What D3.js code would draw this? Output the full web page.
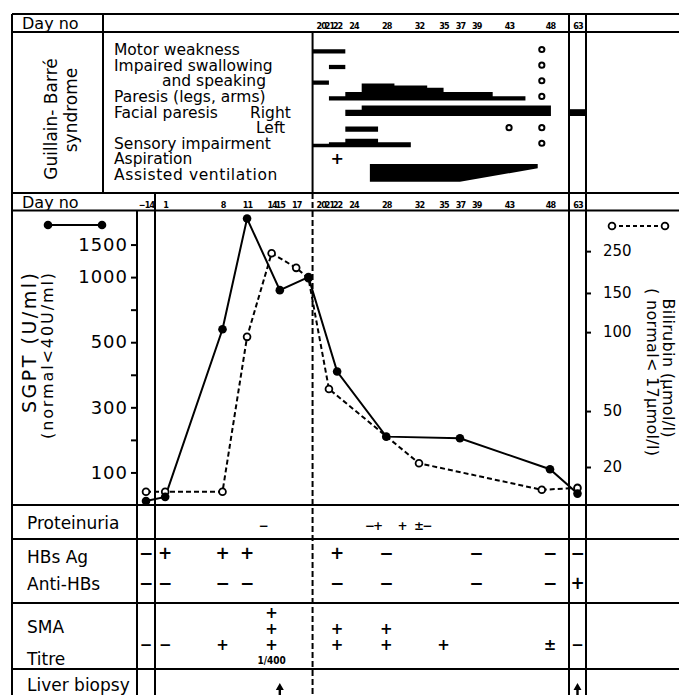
<!DOCTYPE html>
<html>
<head>
<meta charset="utf-8">
<script src="https://cdn.jsdelivr.net/npm/d3@7"></script>
<style>
  body { margin: 0; background: #fff; }
  svg { display: block; font-family: "DejaVu Sans", sans-serif; }
</style>
</head>
<body>
<svg id="chart" width="679" height="695"></svg>
<script>
// ---- data ----
const dayLabels = [-14, 1, 8, 11, 14, 15, 17, 20, 21, 22, 24, 28, 32, 35, 37, 39, 43, 48, 63];
const gbDayLabels = [20, 21, 22, 24, 28, 32, 35, 37, 39, 43, 48, 63];
const gbOnsetDay = 19;

// SGPT (U/ml), solid line
const sgptDays   = [-14, 1, 8, 11, 15, 18.5, 22, 28, 37, 48, 63];
const sgptValues = [12, 25, 600, 1900, 900, 1000, 410, 210, 205, 110, 35];
const sgptTicks = [0, 100, 200, 300, 400, 500, 750, 1000, 1500, 2000];
const sgptLabelled = [100, 300, 500, 1000, 1500];

// bilirubin (umol/l), dashed line
const biliDays   = [-14, 1, 8, 11, 14, 17, 18.5, 21, 32, 47, 63];
const biliValues = [7, 7, 7, 97, 245, 210, 185, 64, 22, 8, 9];
const biliTicks = [20, 50, 100, 150, 250];

// Guillain-Barre course: [day, severity], severity 0 closes the bar
const gbLabels = ["Motor weakness", "Impaired swallowing", "and speaking", "Paresis (legs, arms)",
  "Facial paresis", "", "Sensory impairment", "Aspiration", "Assisted ventilation"];
const facialSides = ["Right", "Left"];
const motorWeakness = [[19, 1], [23, 0]];
const impairedSwallowing = [[21, 1], [23, 0]];
const impairedSpeaking = [[19, 1], [21, 0]];
const paresis = [[21, 1], [23, 2], [25, 4], [29, 3.5], [33, 3], [35, 2], [41, 1], [45, 0]];
const facialRight = [[23, 1.5], [25, 2.5], [48.5, 0]];
const facialRightDay63 = 1.6;
const facialLeft = [[23, 1.2], [27, 0]];
const sensory = [[19, 0.8], [21, 1.2], [23, 2], [27, 1.2], [31, 0]];
const ventilation = [[26, 4.2], [37, 4.2], [46.5, 1]];
const aspirationDays = [22];
const gbNormalDays = [[47], [47], [47], [47], [], [43, 47], [47], [], []];

// tables
const proteinuriaDays = [13, 26, 27, 30, 32, 33];
const proteinuria     = ["−", "−", "+", "+", "±", "−"];
const serologyDays = [-14, 1, 8, 11, 22, 28, 39, 48, 63];
const hbsAg        = ["−", "+", "+", "+", "+", "−", "−", "−", "−"];
const antiHbs      = ["−", "−", "−", "−", "−", "−", "−", "−", "+"];
const smaDays  = [-14, 1, 8, 14, 22, 28, 35, 48, 63];
const smaTitre = ["−", "−", "+", "+++", "++", "++", "+", "±", "−"];
const smaPeakDay = 14, smaPeakTitre = "1/400";
const biopsyDays = [15, 63];

// ---- layout ----
const L = {
  left: 12, gbLabel: 103, axis: 137, day0: 155, lateL: 569, lateR: 586, right: 679,
  top: 14, dayRow1: 32, gbBottom: 193, dayRow2: 210.5, chartBottom: 505,
  protBottom: 539, serBottom: 603, smaBottom: 669, bottom: 695
};
const FONT = "DejaVu Sans, sans-serif";
const NARROW = "DejaVu Sans Condensed, Liberation Sans Narrow, DejaVu Sans, sans-serif";

const svg = d3.select("#chart");

// broken day axis: day -14 column, days 0-48, day 63 column
const x = d3.scaleLinear()
  .domain([-14, 0, 48, 63])
  .range([(L.axis + L.day0) / 2, 157, 550, (L.lateL + L.lateR) / 2]);

// SGPT axis has evenly spaced ticks
const sgptStep = (L.chartBottom - 212) / (sgptTicks.length - 1);
const ySgpt = d3.scaleLinear()
  .domain(sgptTicks)
  .range(sgptTicks.map((d, i) => L.chartBottom - i * sgptStep));

// bilirubin axis is hand spaced, fractions of the plot height
const biliAxisFrac = [0, 0.129, 0.319, 0.587, 0.72, 0.862];
const plotH = L.chartBottom - L.dayRow2;
const yBili = d3.scaleLinear()
  .domain([0].concat(biliTicks))
  .range(biliAxisFrac.map(f => L.chartBottom - f * plotH));

// ---- frame ----
const frame = svg.append("g").attr("stroke", "#000").attr("stroke-width", 2).attr("fill", "none");
[L.top, L.dayRow1, L.gbBottom, L.dayRow2, L.chartBottom, L.protBottom, L.serBottom, L.smaBottom]
  .forEach(y => frame.append("line").attr("x1", L.left).attr("x2", L.right).attr("y1", y).attr("y2", y));

function vline(xp, y1, y2) {
  frame.append("line").attr("x1", xp).attr("x2", xp).attr("y1", y1).attr("y2", y2);
}
vline(L.left, L.top, L.bottom);
vline(L.gbLabel, L.top, L.gbBottom);
vline(x(gbOnsetDay), L.dayRow1, L.gbBottom);
vline(L.axis, L.dayRow2, L.bottom);
vline(L.day0, L.gbBottom, L.bottom);
vline(L.lateL, L.top, L.bottom);
vline(L.lateR, L.top, L.bottom);

// onset of Guillain-Barre, dashed through the lower half
svg.append("line")
  .attr("x1", x(gbOnsetDay)).attr("x2", x(gbOnsetDay))
  .attr("y1", L.gbBottom).attr("y2", L.bottom)
  .attr("stroke", "#000").attr("stroke-width", 2).attr("stroke-dasharray", "6,3");

// ---- day rows ----
function dayRow(values, yBase) {
  const g = svg.append("g")
    .attr("transform", `translate(0,${yBase})`)
    .call(d3.axisTop(x).tickValues(values).tickSize(0).tickPadding(0).tickFormat(d => d < 0 ? "−" + (-d) : d));
  g.select(".domain").remove();
  g.attr("font-family", NARROW).attr("font-size", 9).attr("font-weight", "bold");
  g.selectAll("text").attr("letter-spacing", -0.9);
  return g;
}
dayRow(gbDayLabels, 29);
dayRow(dayLabels, 208);

svg.append("text").attr("x", 22).attr("y", 28.5).attr("font-size", 16).text("Day no");
svg.append("text").attr("x", 22).attr("y", 207.5).attr("font-size", 16).text("Day no");

// ---- Guillain-Barre section ----
svg.append("text")
  .attr("transform", "translate(57,119) rotate(-90)")
  .attr("text-anchor", "middle").attr("font-size", 17)
  .text("Guillain- Barré");
svg.append("text")
  .attr("transform", "translate(77,110) rotate(-90)")
  .attr("text-anchor", "middle").attr("font-size", 17)
  .text("syndrome");

const rowY = d3.scaleLinear().domain([0, gbLabels.length - 1]).range([55, 180]);
const gb = svg.append("g").attr("font-size", 15.5);
gbLabels.forEach((t, i) => {
  if (!t) return;
  gb.append("text")
    .attr("x", i === 2 ? 162 : 114)
    .attr("y", rowY(i))
    .attr("letter-spacing", i === 8 ? 0.6 : 0)
    .text(t);
});
gb.append("text").attr("x", 250).attr("y", rowY(4)).text(facialSides[0]);
gb.append("text").attr("x", 256).attr("y", rowY(5)).text(facialSides[1]);

const sev = d3.scaleLinear().domain([0, 4]).range([0, 17]);
function stepBar(steps, row) {
  const base = rowY(row) - 1.5;
  return d3.area()
    .curve(d3.curveStepAfter)
    .x(d => x(d[0]))
    .y0(base)
    .y1(d => base - sev(d[1]))(steps);
}
const gbBars = [
  [motorWeakness, 0], [impairedSwallowing, 1], [impairedSpeaking, 2],
  [paresis, 3], [facialRight, 4], [facialLeft, 5], [sensory, 6]
];
gbBars.forEach(([steps, row]) => {
  svg.append("path").attr("d", stepBar(steps, row)).attr("fill", "#000");
});

// facial paresis right persists at day 63
svg.append("rect")
  .attr("x", L.lateL).attr("width", L.lateR - L.lateL)
  .attr("y", rowY(4) - 1.5 - sev(facialRightDay63)).attr("height", sev(facialRightDay63))
  .attr("fill", "#000");

// ventilation hangs from its top edge and tapers off
const ventTop = rowY(8) - 16;
svg.append("path")
  .attr("d", d3.area().x(d => x(d[0])).y0(ventTop).y1(d => ventTop + sev(d[1]))(ventilation))
  .attr("fill", "#000");

aspirationDays.forEach(d => {
  svg.append("text").attr("x", x(d)).attr("y", rowY(7) - 0.5)
    .attr("text-anchor", "middle").attr("font-size", 16).attr("font-weight", "bold").text("+");
});

gbNormalDays.forEach((days, row) => {
  days.forEach(d => {
    svg.append("circle").attr("cx", x(d)).attr("cy", rowY(row) - 5.5).attr("r", 2.6)
      .attr("fill", "#fff").attr("stroke", "#000").attr("stroke-width", 2);
  });
});

// ---- SGPT / bilirubin chart ----
const leftAxis = svg.append("g")
  .attr("transform", `translate(${L.axis},0)`)
  .call(d3.axisLeft(ySgpt)
    .tickValues(sgptTicks.filter(d => d > 0 && d < 2000))
    .tickSize(6).tickPadding(3)
    .tickFormat(d => sgptLabelled.includes(d) ? d : ""));
leftAxis.select(".domain").remove();
leftAxis.attr("font-family", FONT).attr("font-size", 18);
leftAxis.selectAll("line").attr("stroke-width", 2);
leftAxis.selectAll("text").attr("letter-spacing", 1);

const rightAxis = svg.append("g")
  .attr("transform", `translate(${L.lateR},0)`)
  .call(d3.axisRight(yBili).tickValues(biliTicks).tickSize(5).tickPadding(12));
rightAxis.select(".domain").remove();
rightAxis.attr("font-family", FONT).attr("font-size", 15);
rightAxis.selectAll("line").attr("stroke-width", 2);

svg.append("text")
  .attr("transform", "translate(36,343) rotate(-90)")
  .attr("text-anchor", "middle").attr("font-size", 19)
  .attr("textLength", 140).attr("lengthAdjust", "spacing")
  .text("SGPT (U/ml)");
svg.append("text")
  .attr("transform", "translate(53,356) rotate(-90)")
  .attr("text-anchor", "middle").attr("font-size", 16)
  .attr("textLength", 166).attr("lengthAdjust", "spacing")
  .text("(normal<40U/ml)");
svg.append("text")
  .attr("transform", "translate(663,368) rotate(90)")
  .attr("text-anchor", "middle").attr("font-size", 16)
  .attr("textLength", 139).attr("lengthAdjust", "spacing")
  .text("Bilirubin (µmol/l)");
svg.append("text")
  .attr("transform", "translate(647,372) rotate(90)")
  .attr("text-anchor", "middle").attr("font-size", 16)
  .attr("textLength", 168).attr("lengthAdjust", "spacing")
  .text("( normal< 17µmol/l)");

const sgpt = sgptDays.map((d, i) => [d, sgptValues[i]]);
const bili = biliDays.map((d, i) => [d, biliValues[i]]);

svg.append("path")
  .attr("d", d3.line().x(d => x(d[0])).y(d => yBili(d[1]))(bili))
  .attr("fill", "none").attr("stroke", "#000").attr("stroke-width", 2).attr("stroke-dasharray", "5,3");
svg.append("path")
  .attr("d", d3.line().x(d => x(d[0])).y(d => ySgpt(d[1]))(sgpt))
  .attr("fill", "none").attr("stroke", "#000").attr("stroke-width", 2);

svg.append("g").selectAll("circle").data(bili).join("circle")
  .attr("cx", d => x(d[0])).attr("cy", d => yBili(d[1])).attr("r", 3.4)
  .attr("fill", "#fff").attr("stroke", "#000").attr("stroke-width", 1.8);
svg.append("g").selectAll("circle").data(sgpt).join("circle")
  .attr("cx", d => x(d[0])).attr("cy", d => ySgpt(d[1])).attr("r", 4.3)
  .attr("fill", "#000");

// legends
const legend = svg.append("g");
legend.append("line").attr("x1", 48).attr("x2", 102).attr("y1", 225).attr("y2", 225)
  .attr("stroke", "#000").attr("stroke-width", 2);
[48, 102].forEach(cx => legend.append("circle").attr("cx", cx).attr("cy", 225).attr("r", 4.3).attr("fill", "#000"));
legend.append("line").attr("x1", 612).attr("x2", 665).attr("y1", 226).attr("y2", 226)
  .attr("stroke", "#000").attr("stroke-width", 2).attr("stroke-dasharray", "4,3");
[612, 665].forEach(cx => legend.append("circle").attr("cx", cx).attr("cy", 226).attr("r", 3.4)
  .attr("fill", "#fff").attr("stroke", "#000").attr("stroke-width", 1.8));

// ---- tables ----
const tbl = svg.append("g").attr("font-size", 17);
[["Proteinuria", 529], ["HBs Ag", 563], ["Anti-HBs", 590], ["SMA", 633], ["Titre", 665], ["Liver biopsy", 691]]
  .forEach(([t, y]) => tbl.append("text").attr("x", 27).attr("y", y).text(t));

function marks(days, values, baseline, size) {
  days.forEach((d, i) => {
    svg.append("text").attr("x", x(d)).attr("y", baseline)
      .attr("text-anchor", "middle").attr("font-size", size).attr("font-weight", "bold")
      .text(values[i]);
  });
}
marks(proteinuriaDays, proteinuria, 530, 12);
marks(serologyDays, hbsAg, 559, 17);
marks(serologyDays, antiHbs, 589, 17);

// SMA: stacked signs, one per grade
smaDays.forEach((d, i) => {
  const signs = smaTitre[i] === "±" ? ["±"] : smaTitre[i].split("");
  signs.forEach((s, k) => {
    svg.append("text").attr("x", x(d)).attr("y", 650 - k * 16)
      .attr("text-anchor", "middle").attr("font-size", 15).attr("font-weight", "bold")
      .text(s);
  });
});
svg.append("text").attr("x", x(smaPeakDay)).attr("y", 664)
  .attr("text-anchor", "middle").attr("font-family", NARROW).attr("font-size", 10)
  .attr("font-weight", "bold").text(smaPeakTitre);

biopsyDays.forEach(d => {
  svg.append("path")
    .attr("transform", `translate(${x(d)},683)`)
    .attr("d", "M0,0 L-4,7 L-1.2,7 L-1.2,13 L1.2,13 L1.2,7 L4,7 Z")
    .attr("fill", "#000");
});
</script>
</body>
</html>
